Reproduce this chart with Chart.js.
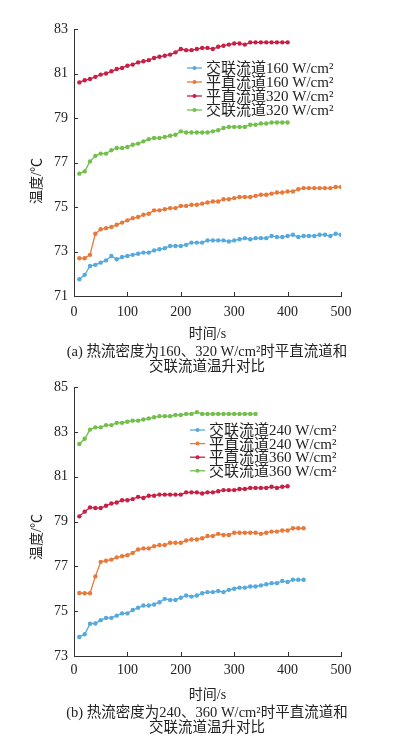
<!DOCTYPE html>
<html><head><meta charset="utf-8">
<script src="https://cdn.jsdelivr.net/npm/chart.js@4.4.1/dist/chart.umd.min.js"></script>
<style>
body{margin:0;background:#fff;width:394px;height:743px;overflow:hidden;position:relative;font-family:"Liberation Serif","Noto Sans CJK SC",serif;}
.wrap{position:absolute;left:0;width:394px;}
#w1{top:0;height:345px}
#w2{top:370px;height:335px}
.cap{position:absolute;left:0;width:414px;text-align:center;font-size:14.5px;line-height:15px;color:#222}
</style></head><body>
<div class="wrap" id="w1"><canvas id="c1"></canvas></div>
<div class="wrap" id="w2"><canvas id="c2"></canvas></div>
<div class="cap" style="top:344px">(a) 热流密度为160、320 W/cm²时平直流道和<br>交联流道温升对比</div>
<div class="cap" style="top:705px">(b) 热流密度为240、360 W/cm²时平直流道和<br>交联流道温升对比</div>
<script>
const time = [10,20,30,40,50,60,70,80,90,100,110,120,130,140,150,160,170,180,190,200,210,220,230,240,250,260,270,280,290,300,310,320,330,340,350,360,370,380,390,400,410,420,430,440,450,460,470,480,490,500];

const xTicks = [0,100,200,300,400,500];
const yTicksA = [71,73,75,77,79,81,83];
const yTicksB = [73,75,77,79,81,83,85];

const labelsA = ["交联流道160 W/cm²","平直流道160 W/cm²","平直流道320 W/cm²","交联流道320 W/cm²"];
const labelsB = ["交联流道240 W/cm²","平直流道240 W/cm²","平直流道360 W/cm²","交联流道360 W/cm²"];

const crossA160 = [71.75,71.95,72.35,72.4,72.5,72.6,72.8,72.65,72.75,72.8,72.85,72.9,72.95,72.95,73.05,73.1,73.15,73.25,73.25,73.25,73.3,73.4,73.4,73.4,73.5,73.5,73.5,73.5,73.45,73.5,73.55,73.6,73.55,73.6,73.6,73.6,73.7,73.65,73.65,73.7,73.75,73.65,73.7,73.7,73.7,73.75,73.75,73.7,73.8,73.75];
const straightA160 = [72.7,72.7,72.85,73.8,74.0,74.05,74.1,74.2,74.3,74.4,74.5,74.55,74.65,74.7,74.85,74.85,74.9,74.95,74.95,75.05,75.05,75.1,75.1,75.15,75.2,75.25,75.25,75.35,75.35,75.4,75.45,75.45,75.45,75.5,75.55,75.55,75.6,75.65,75.65,75.7,75.7,75.8,75.85,75.85,75.85,75.85,75.85,75.85,75.9,75.9];
const straightA320 = [80.6,80.7,80.75,80.85,80.95,81.0,81.1,81.2,81.25,81.35,81.4,81.5,81.55,81.6,81.7,81.75,81.8,81.85,81.95,82.1,82.05,82.05,82.1,82.15,82.15,82.1,82.2,82.25,82.3,82.35,82.35,82.3,82.4,82.4,82.4,82.4,82.4,82.4,82.4,82.4];
const crossA320 = [76.5,76.6,77.05,77.3,77.4,77.4,77.55,77.65,77.65,77.7,77.8,77.85,77.95,78.05,78.1,78.1,78.15,78.2,78.25,78.4,78.35,78.35,78.35,78.35,78.35,78.4,78.45,78.55,78.6,78.6,78.6,78.6,78.7,78.7,78.75,78.75,78.8,78.8,78.8,78.8];

const crossB240 = [73.85,73.97,74.44,74.45,74.6,74.7,74.7,74.8,74.9,74.9,75.05,75.15,75.25,75.25,75.3,75.4,75.55,75.5,75.5,75.6,75.7,75.65,75.7,75.8,75.85,75.85,75.9,75.85,75.95,76.0,76.05,76.05,76.1,76.1,76.15,76.2,76.25,76.25,76.35,76.3,76.4,76.4,76.4];
const straightB240 = [75.81,75.8,75.8,76.55,77.2,77.25,77.3,77.4,77.45,77.5,77.6,77.75,77.8,77.8,77.9,77.95,77.95,78.05,78.05,78.05,78.15,78.2,78.2,78.25,78.35,78.35,78.45,78.4,78.4,78.5,78.5,78.5,78.5,78.5,78.45,78.5,78.55,78.55,78.6,78.6,78.7,78.7,78.7];
const straightB360 = [79.23,79.44,79.63,79.6,79.6,79.7,79.8,79.85,79.95,79.95,80.0,80.1,80.05,80.15,80.15,80.2,80.2,80.2,80.2,80.2,80.3,80.3,80.3,80.25,80.3,80.3,80.35,80.4,80.4,80.4,80.45,80.45,80.5,80.5,80.5,80.5,80.55,80.5,80.55,80.57];
const crossB360 = [82.46,82.69,83.1,83.2,83.2,83.3,83.3,83.4,83.4,83.45,83.5,83.5,83.55,83.6,83.65,83.7,83.7,83.7,83.75,83.75,83.8,83.8,83.88,83.8,83.8,83.8,83.8,83.8,83.8,83.8,83.8,83.8,83.8,83.8];

const COLORS = ["#55a9dd","#e8793a","#c81f45","#72bf4b"];
const SERIF = '"Liberation Serif","Noto Sans CJK SC",serif';

function pts(vals){ return vals.map((v,i)=>({x:time[i], y:v})); }
function ds(label, vals, color){
  return {label, data: pts(vals), borderColor: color, backgroundColor: color,
    borderWidth: 1.3, pointRadius: 2.2, pointBorderWidth: 0, pointHoverRadius: 2.2, tension: 0};
}

const decor = {
  id: 'decor',
  afterDraw(chart, args, opts){
    const ctx = chart.ctx;
    const xs = chart.scales.x, ys = chart.scales.y;
    ctx.save();
    ctx.strokeStyle = '#333'; ctx.lineWidth = 1;
    xs.ticks.forEach(t=>{
      const px = Math.round(xs.getPixelForValue(t.value))+0.5;
      ctx.beginPath(); ctx.moveTo(px, ys.bottom); ctx.lineTo(px, ys.bottom-4); ctx.stroke();
    });
    ys.ticks.forEach(t=>{
      const py = Math.round(ys.getPixelForValue(t.value))+0.5;
      ctx.beginPath(); ctx.moveTo(xs.left, py); ctx.lineTo(xs.left+4, py); ctx.stroke();
    });
    ctx.fillStyle = '#222';
    ctx.font = '14px ' + SERIF;
    ctx.textAlign = 'center'; ctx.textBaseline = 'middle';
    ctx.translate(opts.titleX, opts.titleY);
    ctx.rotate(-Math.PI/2);
    ctx.fillText('温度/℃', 0, 0);
    ctx.restore();
    ctx.save();
    ctx.font = '15px ' + SERIF;
    ctx.textBaseline = 'middle'; ctx.textAlign = 'left';
    chart.data.datasets.forEach((d,i)=>{
      const y = opts.legY + i*opts.legGap;
      ctx.strokeStyle = d.borderColor; ctx.fillStyle = d.borderColor; ctx.lineWidth = 1.3;
      ctx.beginPath(); ctx.moveTo(opts.legX, y); ctx.lineTo(opts.legX+15, y); ctx.stroke();
      ctx.beginPath(); ctx.arc(opts.legX+7.5, y, 2, 0, Math.PI*2); ctx.fill();
      ctx.fillStyle = '#222';
      ctx.fillText(d.label, opts.legX+19, y+1);
    });
    ctx.restore();
  }
};

function makeChart(id, datasets, yTicks, cfg){
  return new Chart(document.getElementById(id), {
    type: 'line',
    data: {datasets},
    options: {
      responsive: true, maintainAspectRatio: false, animation: false,
      layout: {padding: {left: 0, right: 53, top: cfg.top, bottom: 0}},
      plugins: {legend: {display: false}, tooltip: {enabled: false}, decor: cfg.decor},
      scales: {
        x: {type: 'linear', min: 0, max: 500,
          afterBuildTicks: s => { s.ticks = xTicks.map(v=>({value:v})); },
          afterFit: s => { s.height = cfg.xh; },
          grid: {display: false, drawTicks: false},
          border: {display: true, color: '#333', width: 1},
          ticks: {padding: cfg.xpad, color: '#222', font: {family: SERIF, size: 14}},
          title: {display: true, text: '时间/s', color: '#222', font: {family: SERIF, size: 14}, padding: {top: 0, bottom: cfg.xtpad}}
        },
        y: {type: 'linear', min: yTicks[0], max: yTicks[yTicks.length-1],
          afterBuildTicks: s => { s.ticks = yTicks.map(v=>({value:v})); },
          afterFit: s => { s.width = 74; },
          grid: {display: false, drawTicks: false},
          border: {display: true, color: '#333', width: 1},
          ticks: {padding: 6, color: '#222', font: {family: SERIF, size: 14}}
        }
      }
    },
    plugins: [decor]
  });
}

makeChart('c1', [
  ds(labelsA[0], crossA160, COLORS[0]),
  ds(labelsA[1], straightA160, COLORS[1]),
  ds(labelsA[2], straightA320, COLORS[2]),
  ds(labelsA[3], crossA320, COLORS[3])
], yTicksA, {top: 29, xh: 49, xpad: 8, xtpad: 2, decor: {titleX: 37, titleY: 181, legX: 187, legY: 68, legGap: 14}});

makeChart('c2', [
  ds(labelsB[0], crossB240, COLORS[0]),
  ds(labelsB[1], straightB240, COLORS[1]),
  ds(labelsB[2], straightB360, COLORS[2]),
  ds(labelsB[3], crossB360, COLORS[3])
], yTicksB, {top: 17, xh: 49, xpad: 6, xtpad: 1, decor: {titleX: 37, titleY: 167, legX: 190, legY: 60, legGap: 13.6}});
</script>
</body></html>
